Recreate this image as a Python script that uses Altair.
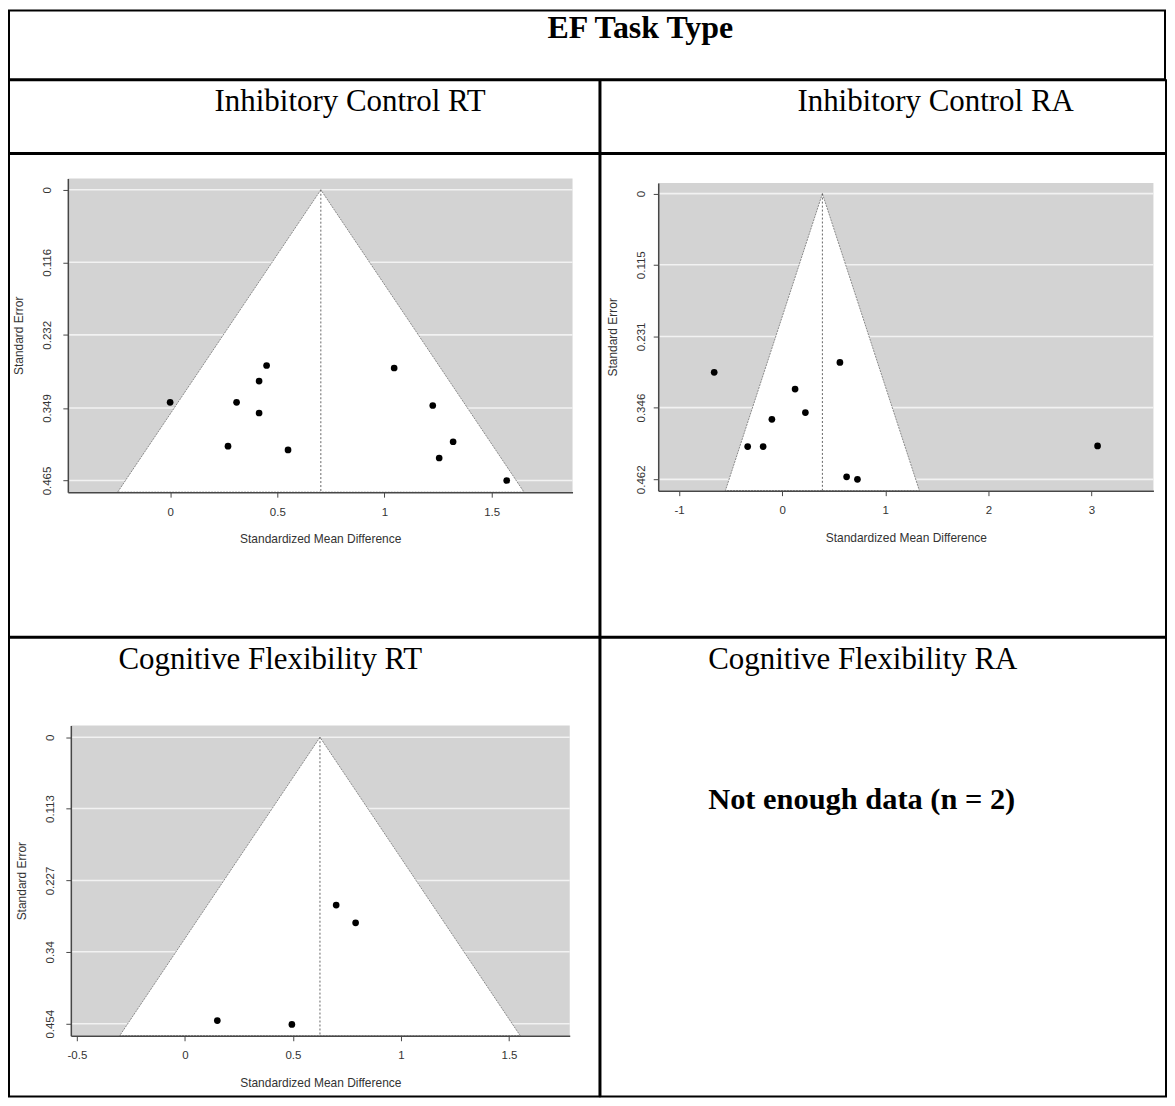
import altair as alt
import pandas as pd

# ---------------- data ----------------
# Inhibitory Control RT
ic_rt_smd = [0.00, 0.45, 0.415, 0.31, 0.415, 0.27, 0.55, 1.045, 1.225, 1.32, 1.255, 1.57]
ic_rt_se = [0.340, 0.281, 0.306, 0.340, 0.357, 0.410, 0.416, 0.285, 0.345, 0.403, 0.429, 0.465]
ic_rt_center = 0.703
ic_rt_xticks = [0, 0.5, 1, 1.5]
ic_rt_yticks = [0, 0.116, 0.232, 0.349, 0.465]
ic_rt_xlim = [-0.477, 1.877]
ic_rt_ylim = [-0.0181, 0.4836]

# Inhibitory Control RA
ic_ra_smd = [-0.66, 0.56, 0.125, 0.225, -0.10, -0.335, -0.185, 0.625, 0.73, 3.06]
ic_ra_se = [0.289, 0.273, 0.316, 0.354, 0.365, 0.409, 0.409, 0.458, 0.462, 0.408]
ic_ra_center = 0.390
ic_ra_xticks = [-1, 0, 1, 2, 3]
ic_ra_yticks = [0, 0.115, 0.231, 0.346, 0.462]
ic_ra_xlim = [-1.203, 3.602]
ic_ra_ylim = [-0.0172, 0.4803]

# Cognitive Flexibility RT
cf_rt_smd = [0.70, 0.79, 0.15, 0.495]
cf_rt_se = [0.266, 0.294, 0.449, 0.455]
cf_rt_center = 0.625
cf_rt_xticks = [-0.5, 0, 0.5, 1, 1.5]
cf_rt_yticks = [0, 0.113, 0.227, 0.34, 0.454]
cf_rt_xlim = [-0.528, 1.781]
cf_rt_ylim = [-0.0185, 0.473]

title_text = "EF Task Type"
headings = ["Inhibitory Control RT", "Inhibitory Control RA",
            "Cognitive Flexibility RT", "Cognitive Flexibility RA"]
no_data_text = "Not enough data (n = 2)"
x_title = "Standardized Mean Difference"
y_title = "Standard Error"

# ---------------- layout / style ----------------
LEFT_W, RIGHT_W = 592, 567
ROW_A, ROW_B, ROW_C, ROW_D = 69, 73, 484, 460
GAP = -2  # compensates the 1px stroke overhang on each side of a cell
SERIF = "Liberation Serif"
SANS = "Liberation Sans"
AXIS_COL = "#474747"
LABEL_COL = "#333333"


def funnel_layers(smd, se, center, xlim, ylim, xticks, yticks, cell_h, xr, yr,
                  ylab_pad=10, xlab_pad=9):
    xs = alt.Scale(domain=xlim, range=xr, nice=False, zero=False)
    ys = alt.Scale(domain=ylim, range=yr, nice=False, zero=False)
    common = dict(grid=False, domainColor=AXIS_COL, domainWidth=1.5, tickColor=AXIS_COL,
                  tickWidth=1, tickSize=5, labelFont=SANS, labelFontSize=11.5,
                  labelColor=LABEL_COL, titleFont=SANS, titleFontSize=12,
                  titleFontWeight="normal", titleColor=LABEL_COL, titlePadding=16,
                  labelFlush=False, labelOverlap=False, zindex=1,
                  labelExpr="'' + datum.value")
    xaxis = alt.Axis(title=x_title, values=xticks, offset=yr[1] - cell_h,
                     labelPadding=xlab_pad, **common)
    yaxis = alt.Axis(title=y_title, values=yticks, offset=-xr[0], labelAngle=270,
                     labelAlign="center", labelBaseline="bottom",
                     labelPadding=ylab_pad, **common)

    bg = alt.Chart(pd.DataFrame({"a": [xlim[0]], "b": [xlim[1]],
                                 "c": [ylim[0]], "d": [ylim[1]]})).mark_rect(
        color="#d3d3d3").encode(
        x=alt.X("a:Q", scale=xs, axis=xaxis), x2="b",
        y=alt.Y("c:Q", scale=ys, axis=yaxis), y2="d")

    grid = alt.Chart(pd.DataFrame({"t": yticks, "a": [xlim[0]] * len(yticks),
                                   "b": [xlim[1]] * len(yticks)})).mark_rule(
        color="#f2f2f2", strokeWidth=1.6).encode(
        x=alt.X("a:Q", scale=xs, axis=xaxis), x2="b",
        y=alt.Y("t:Q", scale=ys, axis=yaxis))

    tri = alt.Chart(pd.DataFrame({"s": [0.0, ylim[1]]})).transform_calculate(
        lo=f"{center} - 1.96 * datum.s", hi=f"{center} + 1.96 * datum.s").mark_area(
        orient="horizontal", fill="white", stroke="#8a8a8a", strokeWidth=1,
        strokeDash=[2, 1]).encode(
        y=alt.Y("s:Q", scale=ys, axis=yaxis),
        x=alt.X("lo:Q", scale=xs, axis=xaxis), x2="hi:Q")

    cline = alt.Chart(pd.DataFrame({"c": [center], "s0": [0.0], "s1": [ylim[1]]})).mark_rule(
        color="#555555", strokeDash=[2, 2], strokeWidth=0.9).encode(
        x=alt.X("c:Q", scale=xs, axis=xaxis),
        y=alt.Y("s0:Q", scale=ys, axis=yaxis), y2="s1")

    pts = alt.Chart(pd.DataFrame({"smd": smd, "se": se})).mark_circle(
        size=45, color="black", opacity=1).encode(
        x=alt.X("smd:Q", scale=xs, axis=xaxis),
        y=alt.Y("se:Q", scale=ys, axis=yaxis))

    return [bg, grid, tri, cline, pts]


def text_layer(label, x, y, size, weight="normal", align="center"):
    return alt.Chart(alt.Data(values=[{"t": label}])).mark_text(
        font=SERIF, fontSize=size, fontWeight=weight, align=align,
        baseline="alphabetic", color="black").encode(
        text="t:N", x=alt.value(x), y=alt.value(y))


# Row A: title
row_a = text_layer(title_text, 633, 27.5, 32, "bold").properties(
    width=LEFT_W + RIGHT_W + GAP + 2, height=ROW_A)

# Row B: headings
row_b = alt.hconcat(
    text_layer(headings[0], 342, 31, 31).properties(width=LEFT_W, height=ROW_B),
    text_layer(headings[1], 336, 31, 31).properties(width=RIGHT_W, height=ROW_B),
    spacing=GAP)

# Row C: two funnel plots
p1 = alt.layer(*funnel_layers(ic_rt_smd, ic_rt_se, ic_rt_center, ic_rt_xlim, ic_rt_ylim,
                              ic_rt_xticks, ic_rt_yticks, ROW_C, [59, 565], [24.5, 339],
                              ylab_pad=10)).properties(width=LEFT_W, height=ROW_C)
p2 = alt.layer(*funnel_layers(ic_ra_smd, ic_ra_se, ic_ra_center, ic_ra_xlim, ic_ra_ylim,
                              ic_ra_xticks, ic_ra_yticks, ROW_C, [57.9, 554.4], [29, 337.5],
                              ylab_pad=7)).properties(width=RIGHT_W, height=ROW_C)
row_c = alt.hconcat(p1, p2, spacing=GAP)

# Row D: third funnel plot + text cell
p3 = alt.layer(text_layer(headings[2], 262, 31, 31),
               *funnel_layers(cf_rt_smd, cf_rt_se, cf_rt_center, cf_rt_xlim, cf_rt_ylim,
                              cf_rt_xticks, cf_rt_yticks, ROW_D, [62, 562.2], [88, 399],
                              ylab_pad=10)).properties(width=LEFT_W, height=ROW_D)
p4 = alt.layer(text_layer(headings[3], 263, 31, 31),
               text_layer(no_data_text, 108, 172, 30.5, "bold", "left")).properties(
    width=RIGHT_W, height=ROW_D)
row_d = alt.hconcat(p3, p4, spacing=GAP)

chart = alt.vconcat(row_a, row_b, row_c, row_d, spacing=GAP).properties(
    padding=0, background="white").configure_view(
    stroke="black", strokeWidth=2, fill="white")

chart.save("out.html", embed_options={"renderer": "svg", "actions": False})
